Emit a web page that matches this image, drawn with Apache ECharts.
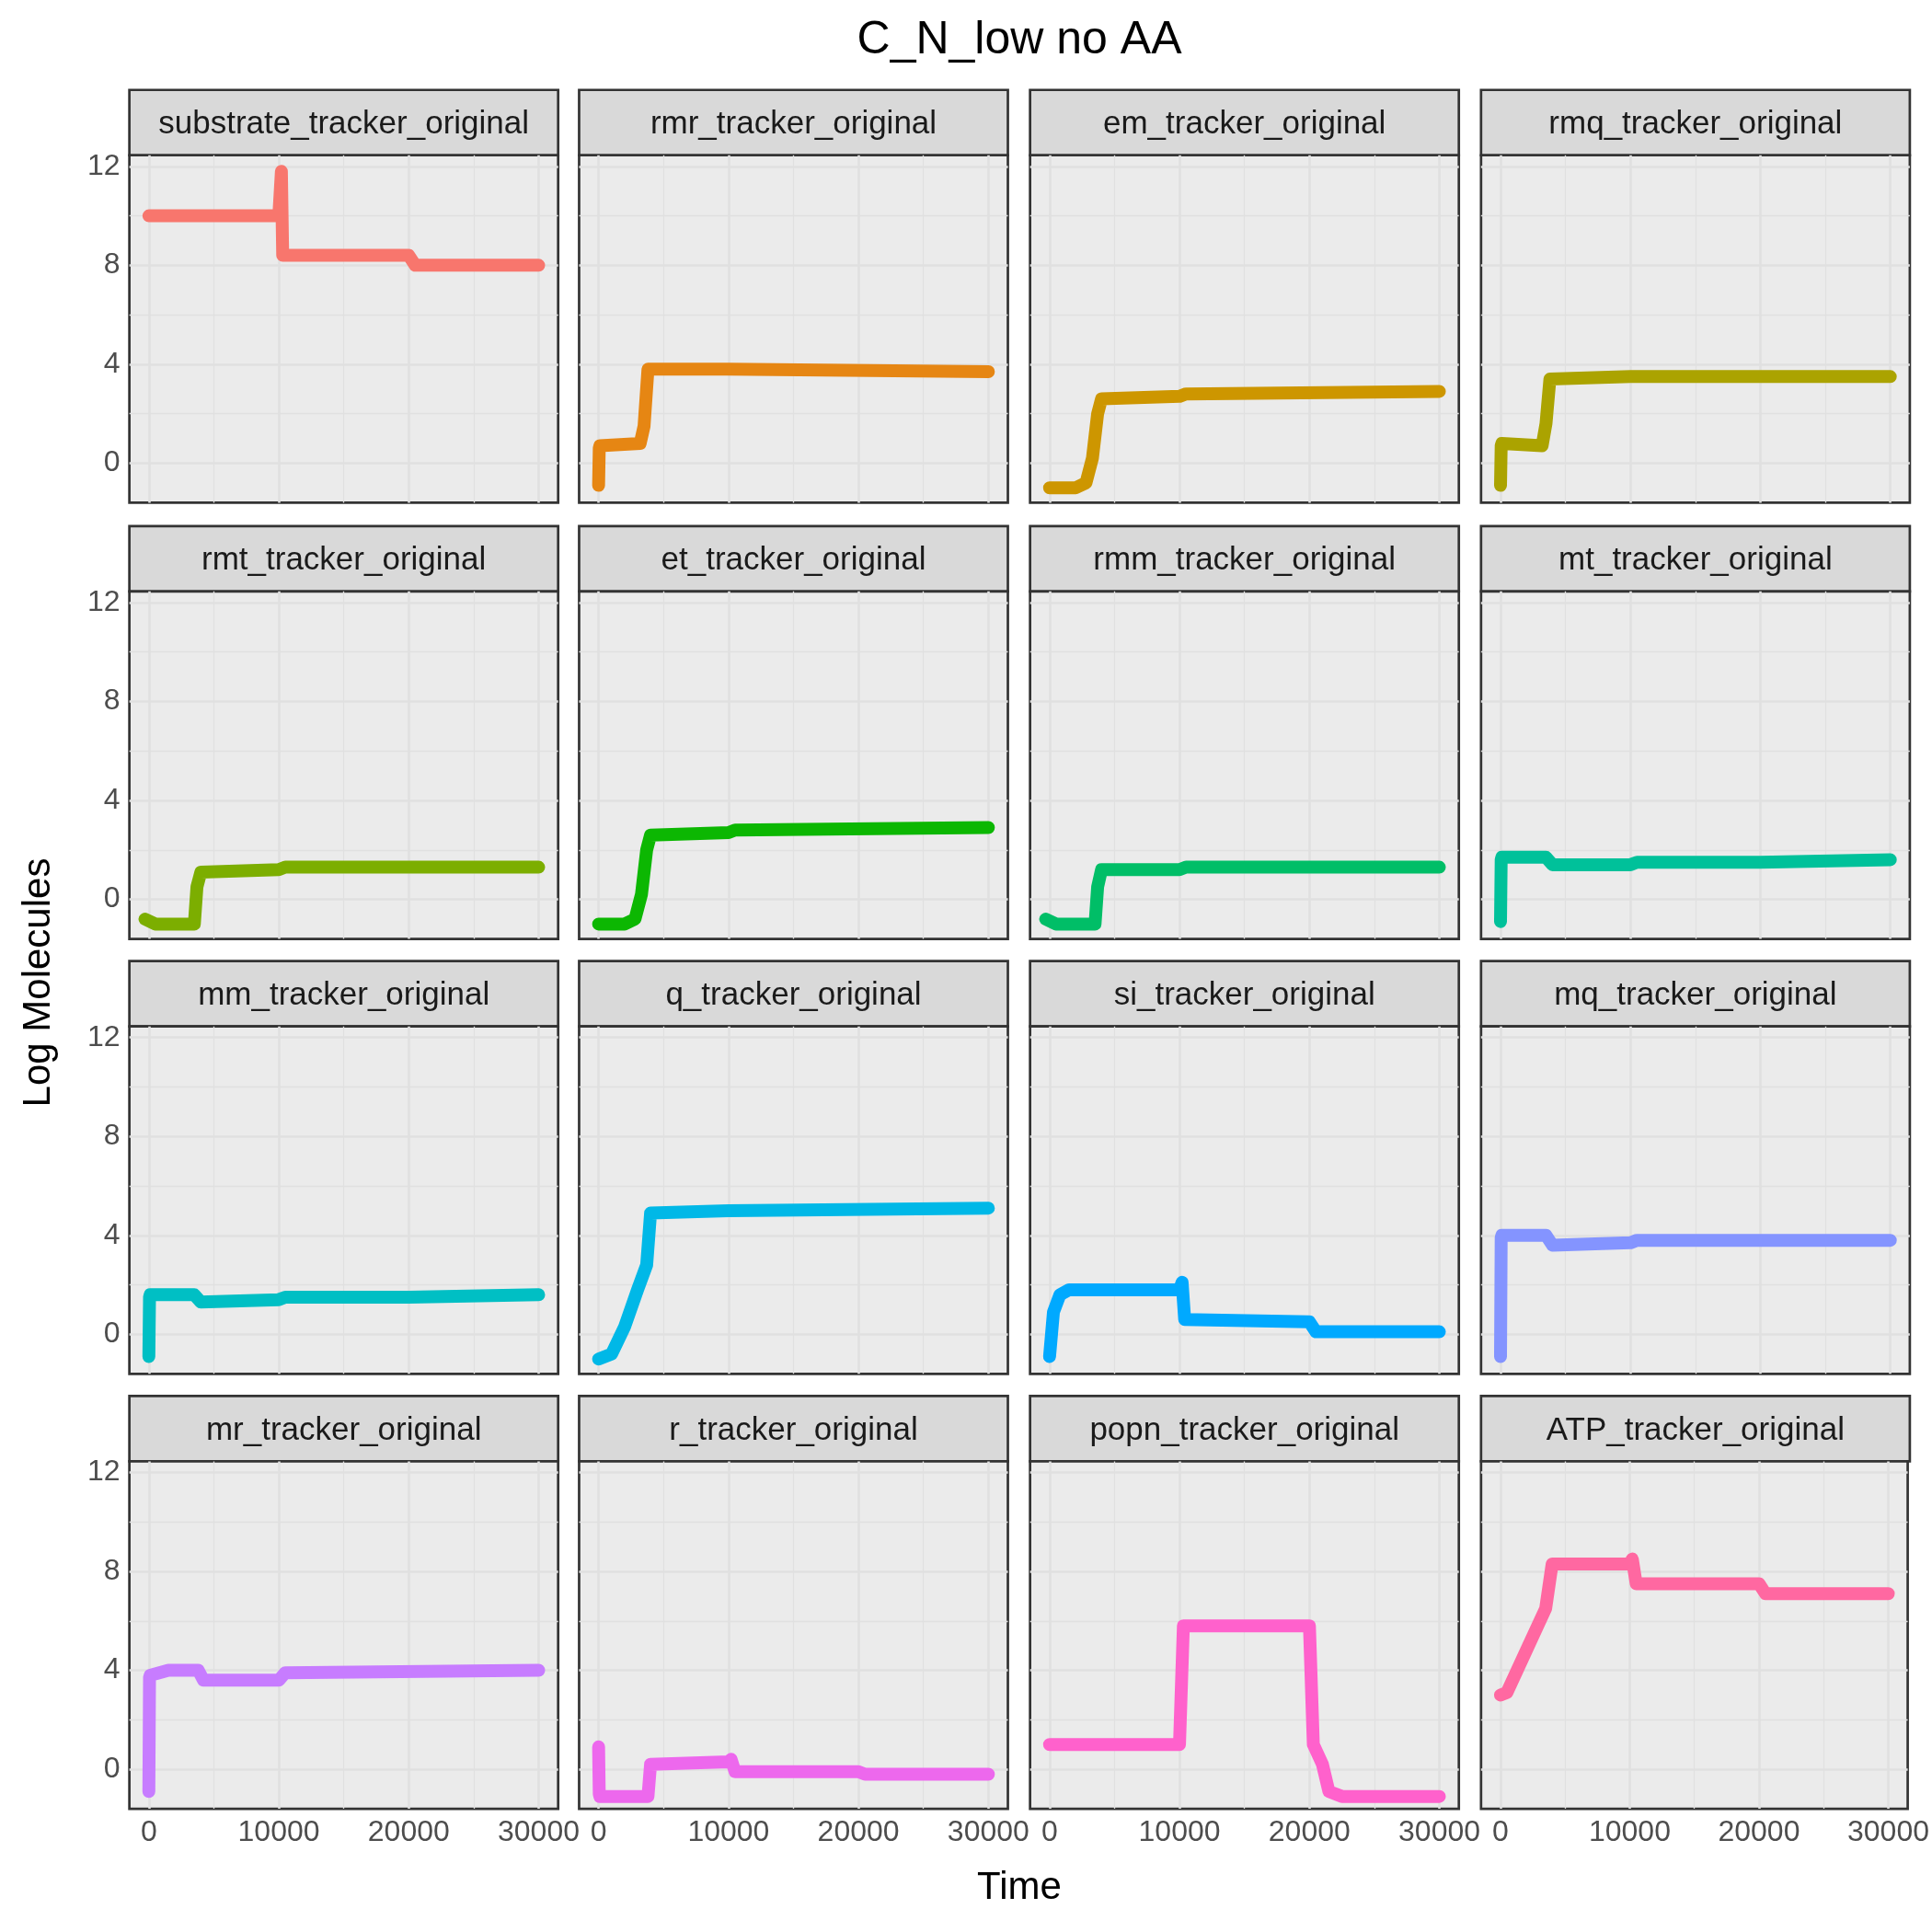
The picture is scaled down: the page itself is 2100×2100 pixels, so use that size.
<!DOCTYPE html>
<html><head><meta charset="utf-8">
<script src="https://cdn.jsdelivr.net/npm/echarts@6/dist/echarts.min.js"></script>
<style>html,body{margin:0;padding:0;background:#fff}#c{width:2100px;height:2100px}</style>
</head><body><div id="c"></div>
<script>
const panelNames = ["substrate_tracker_original","rmr_tracker_original","em_tracker_original","rmq_tracker_original",
"rmt_tracker_original","et_tracker_original","rmm_tracker_original","mt_tracker_original",
"mm_tracker_original","q_tracker_original","si_tracker_original","mq_tracker_original",
"mr_tracker_original","r_tracker_original","popn_tracker_original","ATP_tracker_original"];
const colors = ["#F8766D","#E68613","#CD9600","#ABA300","#7CAE00","#0CB702","#00BE67","#00C19A",
"#00BFC4","#00B8E7","#00A9FF","#8494FF","#C77CFF","#ED68ED","#FF61CC","#FF68A1"];
const xTicks = [0,10000,20000,30000];
const yTicks = [0,4,8,12];
const times = [
 [0,10000,10200,10300,20000,20500,30000],
 [0,50,100,3200,3500,3800,10000,30000],
 [0,2000,2800,3300,3700,4000,10000,10500,30000],
 [0,50,100,3200,3500,3800,10000,30000],
 [-300,500,3500,3700,4000,10000,10500,30000],
 [0,2000,2800,3300,3700,4000,10000,10500,30000],
 [-300,500,3500,3700,4000,10000,10500,30000],
 [0,50,100,3500,4000,10000,10500,20000,30000],
 [0,50,100,3500,4000,10000,10500,20000,30000],
 [0,1000,2000,3000,3700,4000,10000,30000],
 [0,300,800,1500,10000,10200,10400,20000,20500,30000],
 [0,50,100,3500,4000,10000,10500,30000],
 [0,50,100,1500,3800,4200,10000,10500,30000],
 [0,50,100,3800,4000,10000,10200,10500,20000,20500,30000],
 [0,10000,10300,20000,20300,21000,21500,22500,30000],
 [0,500,2000,3500,4000,10000,10200,10500,20000,20500,30000]
];
const values = [
 [10,10,11.8,8.4,8.4,8.0,8.0],
 [-0.9,0.6,0.7,0.8,1.5,3.8,3.8,3.7],
 [-1,-1,-0.8,0.2,2.0,2.6,2.7,2.8,2.9],
 [-0.9,0.7,0.8,0.7,1.6,3.4,3.5,3.5],
 [-0.8,-1.0,-1.0,0.5,1.1,1.2,1.3,1.3],
 [-1,-1,-0.8,0.2,2.0,2.6,2.7,2.8,2.9],
 [-0.8,-1.0,-1.0,0.5,1.2,1.2,1.3,1.3],
 [-0.9,1.6,1.7,1.7,1.4,1.4,1.5,1.5,1.6],
 [-0.9,1.5,1.6,1.6,1.3,1.4,1.5,1.5,1.6],
 [-1.0,-0.8,0.3,1.8,2.8,4.9,5.0,5.1],
 [-0.9,0.9,1.6,1.8,1.8,2.1,0.6,0.5,0.1,0.1],
 [-0.9,3.9,4.0,4.0,3.6,3.7,3.8,3.8],
 [-0.9,3.7,3.8,4.0,4.0,3.6,3.6,3.9,4.0],
 [0.9,-1.0,-1.1,-1.1,0.2,0.3,0.4,-0.1,-0.1,-0.2,-0.2],
 [1.0,1.0,5.8,5.8,1.0,0.2,-0.9,-1.1,-1.1],
 [3.0,3.1,4.8,6.5,8.3,8.3,8.5,7.5,7.5,7.1,7.1]
];

const S = 2100/1568;
const colL = [105,470,836,1202].map(v=>v*S);
const rowT = [73,427,780,1133].map(v=>v*S);
const W = 348*S, stripH = 53*S, plotH = 282*S;
const font = "Liberation Sans, Arial, sans-serif";
const grids=[], xAxes=[], yAxes=[], series=[], graphics=[];
panelNames.forEach((name,i)=>{
  const r=Math.floor(i/4), c=i%4;
  const top=rowT[r]+stripH, left=colL[c];
  grids.push({left:left, top:top, width:W, height:plotH, show:true, backgroundColor:'#EBEBEB',
    borderColor:'#333333', borderWidth:2.7, z:3});
  xAxes.push({type:'value', gridIndex:i, min:-1500, max:31500, splitLine:{show:false},
    axisLine:{show:false},
    axisTick:{show:r===3, length:6, lineStyle:{color:'#333',width:2.7}, customValues:xTicks},
    axisLabel:{show:r===3, customValues:xTicks, formatter:v=>String(v), color:'#4D4D4D', fontSize:32, fontFamily:font, margin:10}});
  yAxes.push({type:'value', gridIndex:i, min:-1.6, max:12.45, splitLine:{show:false},
    axisLine:{show:false},
    axisTick:{show:c===0, length:6, lineStyle:{color:'#333',width:2.7}, customValues:yTicks},
    axisLabel:{show:c===0, customValues:yTicks, formatter:v=>String(v), color:'#4D4D4D', fontSize:32, fontFamily:font, margin:10}});
  const gl=[];
  [5000,15000,25000].forEach(v=>gl.push({xAxis:v, lineStyle:{width:1.3}}));
  [0,10000,20000,30000].forEach(v=>gl.push({xAxis:v, lineStyle:{width:2.6}}));
  [2,6,10].forEach(v=>gl.push({yAxis:v, lineStyle:{width:1.3}}));
  [0,4,8,12].forEach(v=>gl.push({yAxis:v, lineStyle:{width:2.6}}));
  series.push({type:'line', xAxisIndex:i, yAxisIndex:i, showSymbol:false, animation:false, z:5,
    data:times[i].map((t,k)=>[t,values[i][k]]),
    lineStyle:{color:colors[i], width:14, cap:'round', join:'round'}, itemStyle:{color:colors[i]},
    markArea:{silent:true, itemStyle:{color:'#FFFFFF'}, data:[[{xAxis:10000},{xAxis:20000}]]},
    markLine:{silent:true, symbol:'none', label:{show:false}, animation:false,
      lineStyle:{color:'#E0E0E0', type:'solid'}, data:gl}});
  graphics.push({type:'rect', shape:{x:left, y:rowT[r], width:W, height:stripH},
    style:{fill:'#D9D9D9', stroke:'#333333', lineWidth:2.7}});
  graphics.push({type:'text', x:left+W/2, y:rowT[r]+stripH/2+2,
    style:{text:name, fill:'#1A1A1A', font:'35px '+font, align:'center', verticalAlign:'middle'}});
});
graphics.push({type:'text', x:1108, y:44, style:{text:'C_N_low no AA', fill:'#000', font:'50px '+font, align:'center', verticalAlign:'middle'}});
graphics.push({type:'text', x:1108, y:2052, style:{text:'Time', fill:'#000', font:'42px '+font, align:'center', verticalAlign:'middle'}});
graphics.push({type:'text', x:42, y:1068, rotation:Math.PI/2, style:{text:'Log Molecules', fill:'#000', font:'42px '+font, align:'center', verticalAlign:'middle'}});

const chart = echarts.init(document.getElementById('c'));
chart.setOption({animation:false, grid:grids, xAxis:xAxes, yAxis:yAxes, series:series, graphic:graphics});
</script></body></html>
